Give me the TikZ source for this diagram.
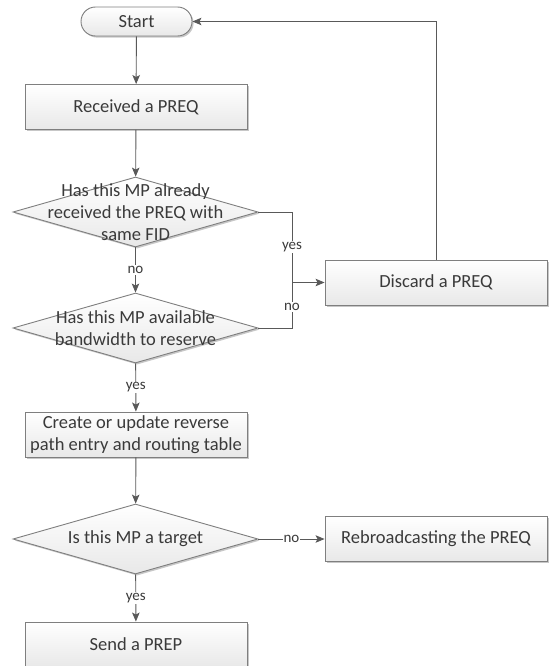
\documentclass[tikz,border=0pt]{standalone}
\usepackage{fontspec}
\setmainfont{Carlito}
\usetikzlibrary{arrows.meta,shadows,shapes.geometric}
\definecolor{bord}{HTML}{7F7F7F}
\definecolor{conn}{HTML}{595959}
\definecolor{txt}{HTML}{3A3A3A}
\begin{document}
\begin{tikzpicture}[x=1pt,y=-1pt,
  shd/.style={drop shadow={shadow xshift=1.6pt,shadow yshift=-1.6pt,opacity=0.22,fill=black}},
  box/.style={draw=bord,line width=0.9pt,top color=white,bottom color=black!9,shd,
    minimum width=222pt,minimum height=45pt,inner sep=0pt,text=txt,align=center,
    font=\fontsize{18.5}{22.5}\selectfont},
  term/.style={box,minimum width=111pt,minimum height=29pt,rounded corners=14.5pt},
  dia/.style={shape=diamond,draw=bord,line width=0.9pt,top color=white,bottom color=black!9,shd,
    minimum width=245pt,minimum height=70pt,inner sep=0pt},
  dtxt/.style={text=txt,align=center,inner sep=0pt,font=\fontsize{18.5}{22.3}\selectfont},
  line/.style={draw=conn,line width=0.9pt},
  arr/.style={line,-{Stealth[length=9pt,width=7.5pt,inset=2pt]}},
  lbl/.style={fill=white,inner sep=1pt,text=txt,font=\fontsize{15}{17}\selectfont}
]
\useasboundingbox (0,0) rectangle (554,666);
\clip (0,0) rectangle (554,666);

\node[term] (start) at (136.5,21.5) {Start};
\node[box] (rcv) at (136,107) {Received a PREQ};
\node[dia] (d1) at (135.5,212) {};
\node[dtxt] (d1t) at (d1.center) {Has this MP already\\received the PREQ with\\same FID};
\node[dia] (d2) at (135.5,328) {};
\node[dtxt] (d2t) at (d2.center) {Has this MP available\\bandwidth to reserve};
\node[box] (cr) at (136,434.5) {Create or update reverse\\path entry and routing table};
\node[dia] (d3) at (135.5,539) {};
\node[dtxt] (d3t) at (d3.center) {Is this MP a target};
\node[box] (send) at (136,644.5) {Send a PREP};
\node[box] (disc) at (436,282.5) {Discard a PREQ};
\node[box] (reb) at (436,539) {Rebroadcasting the PREQ};
\coordinate (j) at (292,282.5);

\draw[arr] (start) -- (rcv);
\draw[arr] (rcv) -- (d1);
\draw[arr] (d1) -- node[lbl]{no} (d2);
\draw[arr] (d2) -- node[lbl]{yes} (cr);
\draw[arr] (cr) -- (d3);
\draw[arr] (d3) -- node[lbl]{yes} (send);
\draw[arr] (d3) -- node[lbl]{no} (reb);
\draw[line] (d1.east) -| node[lbl,pos=0.75]{yes} (j);
\draw[line] (d2.east) -| node[lbl,pos=0.73]{no} (j);
\draw[arr] (j) -- (disc.west);
\draw[arr] (disc.north) |- (start.east);
\end{tikzpicture}
\end{document}
